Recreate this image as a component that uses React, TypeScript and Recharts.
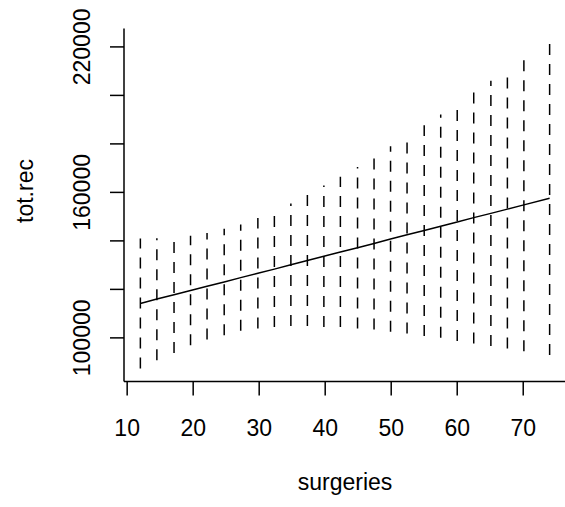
import React from 'react';
import { ComposedChart, Line, XAxis, YAxis } from 'recharts';

// prediction band for tot.rec against surgeries
const surgeries = [12, 14.5, 17.1, 19.6, 22.1, 24.7, 27.2, 29.8, 32.3, 34.8, 37.3, 39.8, 42.3, 44.9, 47.4, 49.9, 52.4, 55, 57.5, 60, 62.5, 65.1, 67.6, 70.1, 74];
const fitted = [114200, 116000, 117750, 119550, 121300, 123050, 124850, 126650, 128350, 130150, 131900, 133650, 135450, 137200, 138950, 140750, 142500, 144250, 146050, 147800, 149600, 151350, 153100, 154850, 157550];
const lower = [87400, 90800, 93800, 97000, 99300, 101100, 102900, 103900, 104500, 104900, 104900, 104500, 104500, 103900, 103500, 102500, 101800, 100800, 100000, 98700, 97700, 96700, 95600, 94500, 92900];
const upper = [141000, 141100, 141700, 142100, 143300, 145000, 146800, 149400, 152200, 155400, 158900, 162800, 166400, 170500, 174400, 179000, 183200, 187700, 192100, 196900, 201500, 206000, 210600, 215200, 222200];

const xTicks = [10, 20, 30, 40, 50, 60, 70];
const yTicks = [100000, 120000, 140000, 160000, 180000, 200000, 220000];
const yLabelled = [100000, 160000, 220000];

const FONT = '"Liberation Sans", Arial, Helvetica, sans-serif';
const FONT_SIZE = 23;
const LW = 1.5;

// R-style 4% padding around the data range
const pad = (lo: number, hi: number): [number, number] => {
  const d = (hi - lo) * 0.04;
  return [lo - d, hi + d];
};
const xDomain = pad(Math.min(...surgeries), Math.max(...surgeries));
const yDomain = pad(Math.min(...lower), Math.max(...upper));

const fitData = surgeries.map((x, i) => ({ x, fit: fitted[i] }));
// one two-point series per interval, drawn bottom to top
const segments = surgeries.map((x, i) => [
  { x, y: lower[i] },
  { x, y: upper[i] },
]);

const XTick = (props: any) => (
  <text
    x={props.payload.coordinate}
    y={props.y}
    dy={38}
    textAnchor="middle"
    fontFamily={FONT}
    fontSize={FONT_SIZE}
    fill="#000"
  >
    {props.payload.value}
  </text>
);

const YTick = (props: any) => {
  const v = props.payload.value;
  if (!yLabelled.includes(v)) return <g />;
  const x = props.x - 18;
  const y = props.payload.coordinate;
  return (
    <text
      x={x}
      y={y}
      transform={`rotate(-90, ${x}, ${y})`}
      textAnchor="middle"
      fontFamily={FONT}
      fontSize={FONT_SIZE}
      fill="#000"
    >
      {v}
    </text>
  );
};

const XTitle = (props: any) => {
  const vb = props.viewBox;
  return (
    <text
      x={vb.x + vb.width / 2}
      y={vb.y + 108.5}
      textAnchor="middle"
      fontFamily={FONT}
      fontSize={FONT_SIZE}
      fill="#000"
    >
      surgeries
    </text>
  );
};

const YTitle = (props: any) => {
  const vb = props.viewBox;
  const x = 33;
  const y = vb.y + vb.height / 2 - 14;
  return (
    <text
      x={x}
      y={y}
      transform={`rotate(-90, ${x}, ${y})`}
      textAnchor="middle"
      fontFamily={FONT}
      fontSize={FONT_SIZE}
      fill="#000"
    >
      tot.rec
    </text>
  );
};

const App: React.FC = () => {
  return (
    <div
      style={{
        position: 'fixed',
        left: 0,
        top: 0,
        width: 565,
        height: 507,
        overflow: 'hidden',
        background: '#fff',
      }}
    >
      <ComposedChart
        width={600}
        height={507}
        data={fitData}
        margin={{ top: 28.5, right: 34, bottom: 0, left: 0 }}
      >
        <XAxis
          xAxisId="bottom"
          type="number"
          dataKey="x"
          domain={xDomain}
          ticks={xTicks}
          allowDataOverflow
          height={125.5}
          tickSize={14}
          axisLine={{ stroke: '#000', strokeWidth: LW }}
          tickLine={{ stroke: '#000', strokeWidth: LW }}
          tick={XTick}
          label={<XTitle />}
        />
        <XAxis
          xAxisId="top"
          orientation="top"
          type="number"
          dataKey="x"
          domain={xDomain}
          allowDataOverflow
          height={0}
          tick={false}
          tickLine={false}
          axisLine={{ stroke: '#000', strokeWidth: LW }}
        />
        <YAxis
          yAxisId="left"
          type="number"
          domain={yDomain}
          ticks={yTicks}
          allowDataOverflow
          width={124}
          tickSize={14}
          axisLine={{ stroke: '#000', strokeWidth: LW }}
          tickLine={{ stroke: '#000', strokeWidth: LW }}
          tick={YTick}
          label={<YTitle />}
        />
        <YAxis
          yAxisId="right"
          orientation="right"
          type="number"
          domain={yDomain}
          allowDataOverflow
          width={0}
          tick={false}
          tickLine={false}
          axisLine={{ stroke: '#000', strokeWidth: LW }}
        />
        {segments.map((seg, i) => (
          <Line
            key={i}
            xAxisId="bottom"
            yAxisId="left"
            data={seg}
            dataKey="y"
            type="linear"
            stroke="#000"
            strokeWidth={LW}
            strokeDasharray="11 9"
            dot={false}
            activeDot={false}
            isAnimationActive={false}
          />
        ))}
        <Line
          xAxisId="bottom"
          yAxisId="left"
          dataKey="fit"
          type="linear"
          stroke="#000"
          strokeWidth={LW}
          dot={false}
          activeDot={false}
          isAnimationActive={false}
        />
      </ComposedChart>
    </div>
  );
};

export default App;
